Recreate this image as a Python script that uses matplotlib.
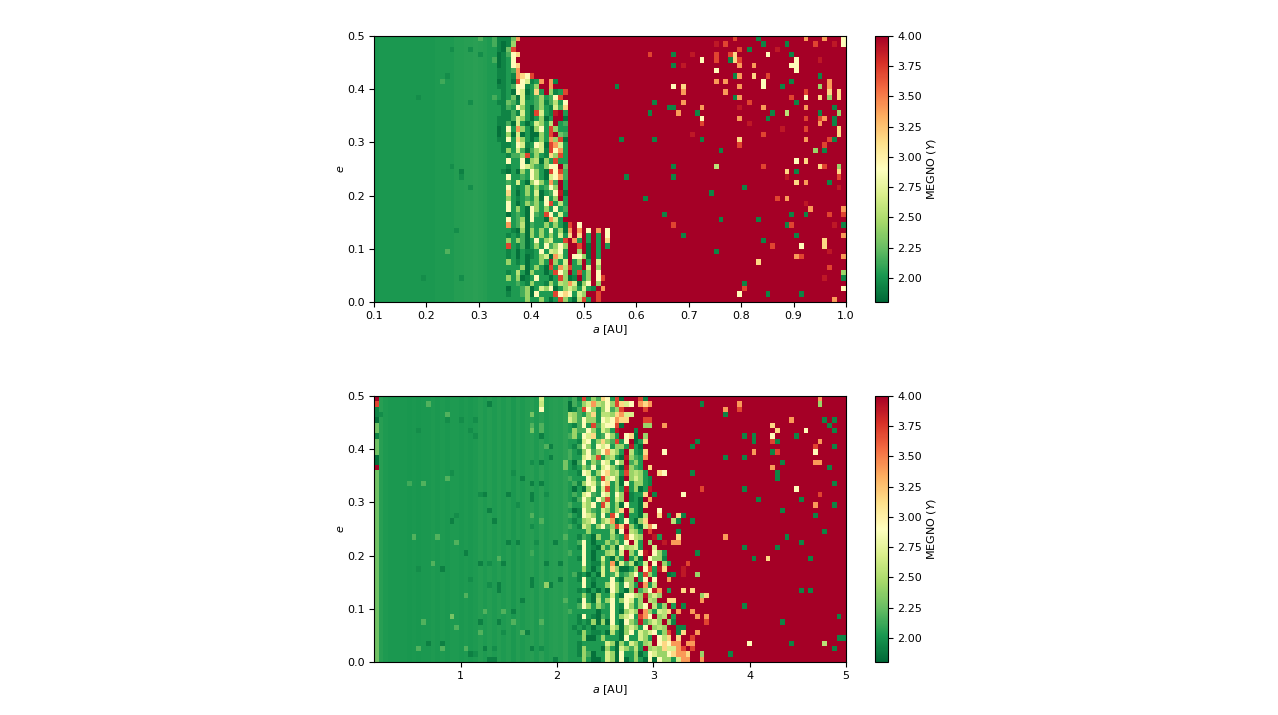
import numpy as np
from matplotlib import pyplot as plt

# MEGNO levels used for the cells
levels = {'d': 1.85, 'e': 1.93, 'g': 2.04, 'h': 2.15, 'i': 2.28, 'j': 2.42, 'k': 2.55,
          'y': 2.68, 'w': 2.92, 'p': 3.15, 'o': 3.4, 'r': 3.7, 'q': 3.88, 'R': 4.0}
# fainter levels for the speckle in the stable part
soft_levels = {'d': 1.92, 'e': 1.98, 'h': 2.13, 'i': 2.18, 'j': 2.3, 'k': 2.4, 'y': 2.6, 'w': 2.75}

a_ticks_top = [0.1, 0.2, 0.3, 0.4, 0.5, 0.6, 0.7, 0.8, 0.9, 1.0]
a_ticks_bottom = [1, 2, 3, 4, 5]
e_ticks = [0.0, 0.1, 0.2, 0.3, 0.4, 0.5]
cbar_ticks = [2.0, 2.25, 2.5, 2.75, 3.0, 3.25, 3.5, 3.75, 4.0]

# stable part, one value per column
top_base = [2.02, 2.03, 2.03, 2.03, 2.03, 2.03, 2.03, 2.03, 2.03, 2.03, 2.03, 2.03,
            2.03, 2.04, 2.04, 2.04, 2.04, 2.05, 2.05, 2.06, 2.06, 2.07, 2.06, 2.05]
bottom_base = [2.28, 2.06, 2.04, 2.03, 2.03, 2.03, 2.03, 2.02, 2.03, 2.02, 2.03, 2.03, 2.04, 2.03,
               2.04, 2.03, 2.04, 2.04, 2.03, 2.04, 2.03, 2.04, 2.05, 2.04, 2.05, 2.04, 2.05, 2.04,
               2.05, 2.03, 2.05, 2.04, 2.05, 2.06, 2.04, 2.07, 2.04, 2.05, 2.06, 2.05, 2.08]

# rows from e=0.5 down, top panel strings start at column 24, the rest is chaotic red
top_rows = ["gheeeioR", "ghedejR", "ggedirR", "ggdehwp", "ghdegwR", "ggdegwp", "ggeegho", "ggeegeopwr",
            "ggdegdrwyegoRoe", "ggeeghwwegjRRoR", "gggegdwydgpgRjegr", "ghgegidyeghjghwrR",
            "ggeeiheygghjehkgw", "gggehgwjgdhjgeyhp", "gggeeheygdrygeqRg", "ggeeehyjgdgjdgRRd",
            "ggeehdygdgyjgkRgh", "ggdewgojgdjwgrjgg", "ggdejdydgddjgrRih", "ggeewgpjgdgjgojrd",
            "gggeegwyegwydroyg", "gggejgyhdhjyerwog", "ggggehhjrgjgepjrg", "ggggwggwdjkdjgrgg",
            "ggggeggwyjhgjwwRi", "gggedgdjgwjgdrwrh", "ggggwgghgwjgdywoh", "gggghgygdjwjgohRg",
            "ggggwgegjgjghwjRg", "ggggpgdgjgydghwqd", "ggggjgeghgjdwgjRg", "ggggwgdgjhjgwrgkg",
            "ggggwgjgdwjgjgwgh", "ggggdghgdwhgrwgyg", "ggggwghjdwggdoyg", "ggggoghkdhggjgjgdrRw",
            "gggggedjdjgjgwgjdoRoRwRoRw", "ggggegehdjgjgjgygpRpRgRgRw", "ggggjgjhdgwgjyggrRogRgRgRp",
            "ggggrgehdgjgwhjwjRRrRdRgRg", "ggggegdgeegwgykwgRRjRdRgRR", "ggggegdgdegjydoygRwwjdRgRR",
            "ggggjgegdggjgqjgyRgjRgRyRR", "gggggggjdgjgdrgokrggRyRjRR", "ggggegkgdjggdgrwjRgrgjRwRR",
            "ggggjgjdegwggdgrjdeRgjRwrR", "gggggghgejggejgkjoydjwRjRR", "ggggdgghjdgyjwdgjyjgygeRoR",
            "ggggegghjdwgggrwpwgyjRRrRR", "ggggggggjggjgdgrjgdkrgRrRR"]

# bottom panel strings start at column 41
bottom_rows = ["ghergjhpwgrdRRRreR", "dhgjyokjwjrpywRopo", "dehrwjgjwhjrRRRRrR", "kjhgjpgkkjpoyyRRRR",
               "yjhwjjgwywoppRRRRr", "gehwgrhywwrdRRRRRj", "gjhhwjgyjgqRRRR", "hjgwypghwjgRwpdR",
               "ggeywgjpjhrgwRdg", "gehwjgwywgjjgqgdR", "hgejwhjwoyjgRkgep", "hggywjrgjkgdqjhgo",
               "gdhwgjhwygwjRhjgR", "gegjhwgywjhdqjhgR", "ggewygjwpjkgrjkjgR", "hgggwjgrywjdRjyjg",
               "ghejwyhwpgjdwgjjgR", "gdgdjwgyrgjgqgjdg", "ghgywhgwygwjReggR", "gehwjgwjrgyjRegdR",
               "hggyjwgrygjdwggdp", "gdewjhgyjgjpRjgdR", "hgewyjgwgrwgRggdk", "gegjkwgjyodgwgdjp",
               "hgeyjgjwhjrpqjgdyo", "ggggjggggkdwRkjgRrRR", "ggehgdjggjhgrwkjRRqg", "gghwgdggjhjgwRygRjRRq",
               "ggewgedjgjdwjkygRRyRR", "hggwgdggjkgyRjgwqRwjg", "ggewgdgygdjgRgjdRwjjeR", "gggwgeejgodyhkdgyRwRjgR",
               "gggjgdgygpjddgjRwrgqpRR", "ghegdgdyghyghjwgrjgRRdR", "ggewgegggwgdjjRgwRwRRo", "gggwgdggjwjgwjgRogkRR",
               "ggegdgdgdwjgdjRhjwqoRg", "gggjgdjggygdwwkjqjyjRR", "ggewgdkgjwgjwygjRkjRRp", "gghwjgjhgwgewjgjwRkgjRg",
               "hgggggdggwgdjyjRojgykRRo", "ggewgedhgwgjywgrowRjkRg", "ggegejdjdwgdwjhqhjyjRjg", "gegegdgggyjdjyjgwRjkjRRe",
               "ggejgeegdkgdjwgyjywgjrRep", "gggjddgjgggdwggyjgRwkRRp", "ggegggggyjdjgyjgjkRwpwoo", "ggejgggdjgdyjhkgRjkjpyyor",
               "ggejhdggyjdwggjdgwyjjwpoo", "gggjgddgyjdwdgjgdwdwjjgyoo"]

# isolated cells as (column, row, level)
top_spots = [(76, 0, 'r'), (81, 0, 'e'), (91, 0, 'o'), (95, 0, 'o'), (99, 0, 'w'), (72, 1, 'q'), (74, 1, 'r'),
             (82, 1, 'e'), (87, 1, 'e'), (93, 1, 'r'), (97, 1, 'q'), (99, 1, 'w'), (77, 2, 'r'), (79, 2, 'e'),
             (85, 2, 'q'), (58, 3, 'r'), (63, 3, 'e'), (67, 3, 'q'), (72, 3, 'r'), (75, 3, 'r'), (83, 3, 'w'),
             (88, 3, 'e'), (69, 4, 'w'), (75, 4, 'e'), (76, 3, 'p'), (76, 4, 'p'), (77, 4, 'r'), (94, 4, 'q'),
             (72, 4, 'r'), (65, 5, 'q'), (63, 5, 'e'), (77, 5, 'o'), (80, 5, 'o'), (88, 5, 'w'), (89, 5, 'w'),
             (89, 4, 'w'), (72, 6, 'w'), (89, 6, 'w'), (76, 7, 'e'), (77, 7, 'o'), (80, 7, 'p'), (83, 7, 'r'),
             (94, 7, 'e'), (82, 8, 'w'), (74, 8, 'o'), (72, 8, 'o'), (88, 8, 'e'), (51, 9, 'e'), (63, 9, 'w'),
             (65, 9, 'p'), (82, 9, 'w'), (86, 9, 'e'), (94, 9, 'j'), (77, 9, 'o'), (96, 8, 'o'), (96, 9, 'o'),
             (65, 10, 'o'), (74, 10, 'o'), (91, 10, 'r'), (96, 10, 'p'), (98, 10, 'p'), (91, 11, 'w'), (96, 11, 'j'),
             (98, 11, 'p'), (94, 11, 'p'), (76, 11, 'e'), (77, 11, 'o'), (88, 11, 'r'), (59, 12, 'e'), (65, 12, 'o'),
             (89, 12, 'e'), (79, 12, 'r'), (63, 13, 'e'), (69, 13, 'o'), (62, 13, 'e'), (77, 13, 'q'), (82, 13, 'o'),
             (91, 13, 'o'), (97, 13, 'e'), (58, 14, 'e'), (64, 14, 'o'), (84, 14, 'e'), (98, 14, 'j'), (68, 14, 'e'),
             (87, 14, 'k'), (94, 14, 'e'), (83, 15, 'e'), (91, 15, 'r'), (97, 15, 'e'), (69, 15, 'w'), (77, 15, 'o'),
             (94, 15, 'r'), (95, 15, 'o'), (97, 16, 'e'), (69, 16, 'r'), (94, 16, 'o'), (79, 16, 'q'), (91, 17, 'r'),
             (86, 17, 'q'), (98, 17, 'p'), (98, 18, 'p'), (67, 18, 'q'), (82, 18, 'r'), (52, 19, 'e'), (59, 19, 'e'),
             (69, 19, 'e'), (77, 19, 'p'), (91, 19, 'o'), (96, 19, 'r'), (97, 19, 'e'), (95, 20, 'r'), (77, 20, 'r'),
             (93, 21, 'j'), (95, 21, 'e'), (73, 21, 'e'), (89, 23, 'w'), (91, 23, 'p'), (72, 24, 'k'), (94, 24, 'p'),
             (98, 24, 'j'), (95, 24, 'r'), (63, 24, 'e'), (82, 24, 'r'), (89, 25, 'e'), (87, 25, 'p'), (98, 25, 'p'),
             (53, 26, 'e'), (63, 26, 'e'), (87, 26, 'q'), (98, 26, 'r'), (89, 27, 'p'), (91, 27, 'o'), (96, 27, 'e'),
             (78, 28, 'e'), (98, 28, 'q'), (71, 29, 'e'), (57, 30, 'e'), (85, 30, 'r'), (87, 30, 'o'), (91, 31, 'q'),
             (92, 32, 'o'), (99, 32, 'o'), (91, 33, 'e'), (96, 33, 'r'), (99, 33, 'r'), (61, 33, 'e'), (88, 33, 'e'),
             (73, 34, 'e'), (81, 34, 'e'), (63, 35, 'r'), (87, 35, 'e'), (88, 35, 'r'), (97, 35, 'q'), (99, 35, 'e'),
             (99, 37, 'o'), (65, 37, 'e'), (89, 37, 'e'), (82, 38, 'e'), (95, 38, 'p'), (95, 39, 'p'), (84, 39, 'r'),
             (90, 39, 'w'), (96, 40, 'q'), (72, 40, 'e'), (89, 41, 'o'), (99, 41, 'o'), (90, 41, 'r'), (81, 42, 'p'),
             (96, 43, 'r'), (99, 44, 'j'), (99, 45, 'e'), (95, 45, 'q'), (78, 46, 'e'), (78, 47, 'r'), (99, 47, 'w'),
             (77, 48, 'w'), (83, 48, 'e'), (90, 48, 'e'), (97, 49, 'o')]

top_speckle = [(9, 11, 'e'), (15, 7, 'e'), (20, 12, 'e'), (18, 25, 'd'), (18, 26, 'e'), (10, 45, 'e'), (18, 45, 'e'),
               (15, 40, 'i'), (17, 36, 'e'), (16, 24, 'e'), (20, 28, 'e'), (20, 2, 'e'), (16, 2, 'e'), (22, 0, 'i'),
               (22, 3, 'e'), (14, 8, 'h')]

bottom_spots = [(69, 1, 'e'), (77, 1, 'o'), (77, 2, 'r'), (74, 2, 'o'), (74, 3, 'e'), (94, 0, 'o'), (94, 1, 'j'),
                (95, 4, 'e'), (97, 4, 'e'), (88, 4, 'o'), (84, 5, 'p'), (85, 6, 'p'), (96, 5, 'e'), (97, 6, 'e'),
                (91, 6, 'w'), (78, 7, 'e'), (80, 7, 'e'), (84, 7, 'w'), (89, 7, 'e'), (85, 8, 'e'), (84, 8, 'r'),
                (80, 8, 'e'), (94, 8, 'o'), (93, 9, 'r'), (97, 9, 'e'), (93, 10, 'w'), (80, 10, 'o'), (84, 10, 'e'),
                (85, 10, 'r'), (74, 11, 'e'), (78, 11, 'e'), (93, 12, 'o'), (86, 12, 'e'), (94, 12, 'o'), (84, 13, 'o'),
                (96, 13, 'e'), (85, 14, 'e'), (85, 15, 'e'), (97, 16, 'e'), (78, 17, 'e'), (69, 17, 'r'), (89, 17, 'w'),
                (94, 18, 'r'), (81, 19, 'e'), (90, 19, 'e'), (86, 21, 'e'), (93, 20, 'o'), (97, 20, 'e'), (93, 22, 'e'),
                (95, 25, 'e'), (74, 26, 'o'), (87, 26, 'e'), (90, 27, 'e'), (78, 28, 'e'), (85, 28, 'e'), (92, 30, 'e'),
                (80, 30, 'e'), (83, 30, 'p'), (90, 36, 'e'), (92, 36, 'e'), (69, 37, 'j'), (70, 37, 'p'), (69, 38, 'o'),
                (78, 39, 'e'), (70, 41, 'o'), (98, 41, 'e'), (86, 42, 'e'), (70, 42, 'r'), (98, 45, 'e'), (99, 45, 'e'),
                (79, 46, 'w'), (88, 46, 'e'), (95, 46, 'k'), (97, 47, 'e'), (69, 48, 'j'), (75, 48, 'e'),
                (57, 4, 'r'), (57, 5, 'j'), (61, 5, 'o'), (55, 6, 'e'), (57, 7, 'j'), (68, 8, 'e'), (57, 8, 'p'),
                (67, 9, 'e'), (61, 10, 'w'), (58, 13, 'p'), (61, 14, 'w'), (60, 14, 'p'), (67, 14, 'e'), (58, 15, 'e'),
                (58, 16, 'e'), (58, 17, 'q'), (57, 18, 'p'), (59, 18, 'e'), (65, 18, 'w'), (58, 19, 'o'), (60, 21, 'w'),
                (60, 22, 'p'), (62, 22, 'e'), (65, 22, 'e'), (64, 22, 'p'), (67, 23, 'e'), (63, 23, 'k'), (64, 23, 'e'),
                (59, 24, 'w'), (64, 25, 'e'), (64, 26, 'p'), (63, 27, 'o'), (64, 27, 'o'), (68, 29, 'e'), (66, 31, 'r'),
                (65, 32, 'q'), (63, 33, 'e'), (68, 33, 'j'), (65, 33, 'q'), (62, 34, 'o'), (65, 36, 'p'), (67, 36, 'p'),
                (63, 38, 'p'), (65, 39, 'e'), (67, 40, 'o'), (62, 40, 'p'), (64, 40, 'o'), (68, 41, 'o'), (63, 42, 'e'),
                (68, 44, 'o'), (65, 43, 'e'), (65, 44, 'p'), (62, 45, 'p'), (67, 45, 'r'), (66, 46, 'o'), (67, 46, 'o'),
                (66, 48, 'p'), (69, 49, 'o'), (67, 47, 'r'),
                (0, 0, 'R'), (0, 1, 'r'), (0, 2, 'e'), (0, 3, 'e'), (0, 4, 'd'), (0, 7, 'e'), (0, 11, 'd'), (0, 12, 'd'),
                (0, 13, 'R'), (35, 0, 'y'), (35, 2, 'w')]

bottom_speckle = [(24, 1, 'd'), (1, 3, 'e'), (9, 6, 'e'), (15, 4, 'e'), (18, 4, 'e'), (21, 4, 'e'), (21, 7, 'e'),
                  (20, 6, 'e'), (16, 23, 'd'), (17, 22, 'e'), (19, 29, 'd'), (14, 32, 'd'), (9, 32, 'e'), (11, 46, 'd'),
                  (14, 46, 'd'), (20, 48, 'd'), (21, 48, 'e'), (23, 47, 'd'), (24, 49, 'd'), (25, 49, 'd'), (26, 42, 'd'),
                  (22, 42, 'd'), (20, 34, 'e'), (26, 35, 'd'), (26, 36, 'd'), (24, 35, 'e'), (22, 31, 'd'), (24, 31, 'e'),
                  (27, 31, 'd'), (28, 27, 'd'), (30, 27, 'd'), (25, 23, 'd'), (24, 21, 'd'), (22, 18, 'e'), (23, 18, 'd'),
                  (28, 18, 'd'), (30, 20, 'e'), (31, 15, 'd'), (29, 14, 'e'), (16, 14, 'e'), (33, 34, 'd'), (33, 35, 'd'),
                  (37, 35, 'd'), (39, 34, 'd'), (37, 9, 'd'), (37, 11, 'd'), (33, 12, 'e'), (35, 12, 'd'), (35, 7, 'd'),
                  (33, 16, 'd'), (35, 16, 'd'), (33, 18, 'd'), (33, 19, 'd'), (36, 18, 'e'), (33, 24, 'e'), (34, 27, 'e'),
                  (38, 27, 'd'), (36, 31, 'd'), (39, 31, 'd'), (33, 47, 'd'), (32, 44, 'd'), (29, 40, 'd'), (31, 38, 'd'),
                  (35, 47, 'e'), (38, 49, 'd'), (25, 47, 'e'), (27, 44, 'e'),
                  (35, 1, 'y'), (33, 3, 'j'), (35, 5, 'i'), (35, 6, 'i'), (33, 5, 'i'),
                  (33, 6, 'j'), (11, 1, 'i'), (15, 3, 'i'), (40, 12, 'j'), (40, 13, 'j'), (16, 41, 'j'), (23, 40, 'i'),
                  (19, 37, 'i'), (19, 47, 'i'), (14, 47, 'i'), (17, 27, 'i'), (13, 26, 'i'), (8, 26, 'i'), (12, 31, 'i'),
                  (26, 30, 'i'), (10, 42, 'i'), (9, 47, 'i'), (17, 43, 'i'), (22, 44, 'i'), (27, 40, 'i'), (29, 42, 'i'),
                  (31, 44, 'i'), (33, 22, 'i'), (15, 15, 'i'), (10, 16, 'i'), (7, 16, 'h'), (36, 35, 'k'), (36, 9, 'i'),
                  (35, 23, 'i'), (33, 29, 'h'), (40, 26, 'i'), (40, 38, 'i'), (35, 42, 'i')]


def make_grid(base, rows, start, spots, speckle):
    grid = np.full((50, 100), levels['R'])
    grid[:, :len(base)] = base
    for r, row in enumerate(rows):
        for c, ch in enumerate(row):
            grid[r, start + c] = levels[ch]
    for c, r, ch in spots:
        grid[r, c] = levels[ch]
    for c, r, ch in speckle:
        grid[r, c] = soft_levels[ch]
    return grid


fig = plt.figure(figsize=(12.78, 7.15), dpi=100)
W, H = 1278.0, 715.0


def panel(grid, amax, aticks, y0):
    ax = fig.add_axes([374 / W, 1 - (y0 + 266) / H, 472 / W, 266 / H])
    im = ax.imshow(grid, cmap='RdYlGn_r', vmin=1.8, vmax=4.0, aspect='auto',
                   extent=[0.1, amax, 0.0, 0.5], interpolation='nearest')
    ax.set_xticks(aticks)
    ax.set_yticks(e_ticks)
    ax.tick_params(labelsize=8, length=3.5, width=0.8, pad=3)
    ax.set_xlabel('$a$ [AU]', fontsize=8, labelpad=1.5)
    ax.set_ylabel('$e$', fontsize=8, labelpad=1)
    cax = fig.add_axes([875 / W, 1 - (y0 + 266) / H, 13 / W, 266 / H])
    cb = fig.colorbar(im, cax=cax)
    cb.set_ticks(cbar_ticks)
    cb.set_ticklabels(['%.2f' % t for t in cbar_ticks])
    cb.ax.tick_params(labelsize=8, length=3.5, width=0.8, pad=3)
    cb.set_label('MEGNO ($Y$)', fontsize=8, labelpad=2)
    return ax


panel(make_grid(top_base, top_rows, 24, top_spots, top_speckle), 1.0, a_ticks_top, 36)
panel(make_grid(bottom_base, bottom_rows, 41, bottom_spots, bottom_speckle), 5.0, a_ticks_bottom, 396)

fig.savefig('out.png', dpi=100)
